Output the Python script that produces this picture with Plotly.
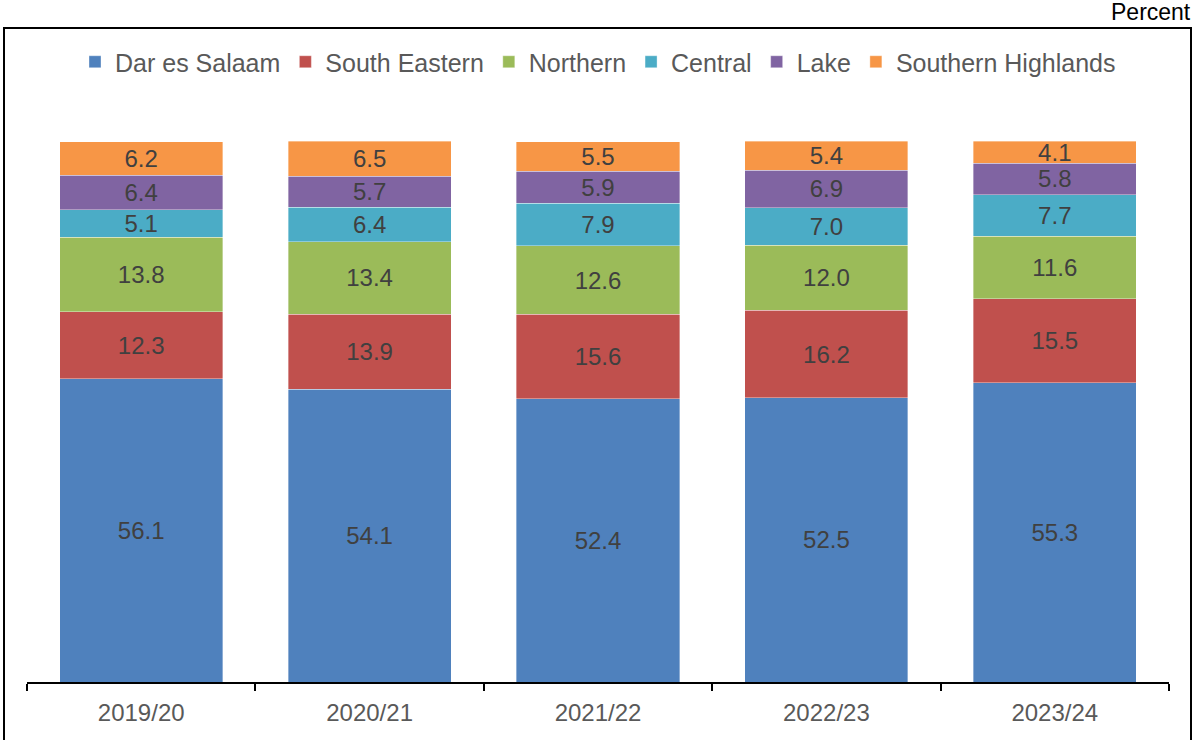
import plotly.graph_objects as go

categories = ["2019/20", "2020/21", "2021/22", "2022/23", "2023/24"]
dar_es_salaam = [56.1, 54.1, 52.4, 52.5, 55.3]
south_eastern = [12.3, 13.9, 15.6, 16.2, 15.5]
northern = [13.8, 13.4, 12.6, 12.0, 11.6]
central = [5.1, 6.4, 7.9, 7.0, 7.7]
lake = [6.4, 5.7, 5.9, 6.9, 5.8]
southern_highlands = [6.2, 6.5, 5.5, 5.4, 4.1]

series = [
    ("Dar es Salaam", dar_es_salaam, "#4F81BD"),
    ("South Eastern", south_eastern, "#C0504D"),
    ("Northern", northern, "#9BBB59"),
    ("Central", central, "#4BACC6"),
    ("Lake", lake, "#8064A2"),
    ("Southern Highlands", southern_highlands, "#F79646"),
]

FONT = "Liberation Sans, Arial, sans-serif"

fig = go.Figure()
for name, vals, color in series:
    fig.add_trace(go.Bar(
        x=categories, y=vals, name=name,
        marker=dict(color=color, line=dict(color="rgba(255,255,255,0.6)", width=0.6)),
        text=[f"{v:.1f}" for v in vals],
        textposition="inside", insidetextanchor="middle",
        textangle=0, constraintext="none",
        textfont=dict(family=FONT, size=24, color="#404040"),
    ))

W, H = 1193, 740
ml, mr, mt, mb = 27, 24, 141, 58
pw = W - ml - mr
ph = H - mt - mb

def px_x(x):
    return (x - ml) / pw

def px_y(y):
    return (H - mb - y) / ph

fig.update_layout(
    width=W, height=H,
    barmode="stack", bargap=0.286,
    margin=dict(l=ml, r=mr, t=mt, b=mb),
    plot_bgcolor="white", paper_bgcolor="white",
    font=dict(family=FONT, size=24, color="#595959"),
    legend=dict(
        orientation="h", x=0.5, xanchor="center",
        y=px_y(62), yanchor="middle",
        font=dict(family=FONT, size=25, color="#595959"),
        traceorder="normal", itemwidth=30,
        bgcolor="rgba(0,0,0,0)",
    ),
    xaxis=dict(
        showline=True, linecolor="black", linewidth=1.5,
        ticks="outside", ticklen=7, tickcolor="black", tickwidth=1.5,
        tickson="boundaries", ticklabelstandoff=8,
        tickfont=dict(family=FONT, size=24, color="#595959"),
        showgrid=False,
    ),
    yaxis=dict(range=[0, 100], showticklabels=False, showgrid=False,
               zeroline=False, showline=False),
    shapes=[dict(
        type="rect", xref="paper", yref="paper",
        x0=px_x(4), x1=px_x(1191), y0=px_y(760), y1=px_y(28),
        line=dict(color="black", width=2), fillcolor="rgba(0,0,0,0)",
        layer="below",
    )],
    annotations=[dict(
        text="Percent", xref="paper", yref="paper",
        x=px_x(1193), y=px_y(12), xanchor="right", yanchor="middle",
        showarrow=False, font=dict(family=FONT, size=23, color="black"),
    )],
    showlegend=True,
)

fig.write_html("out.html")
